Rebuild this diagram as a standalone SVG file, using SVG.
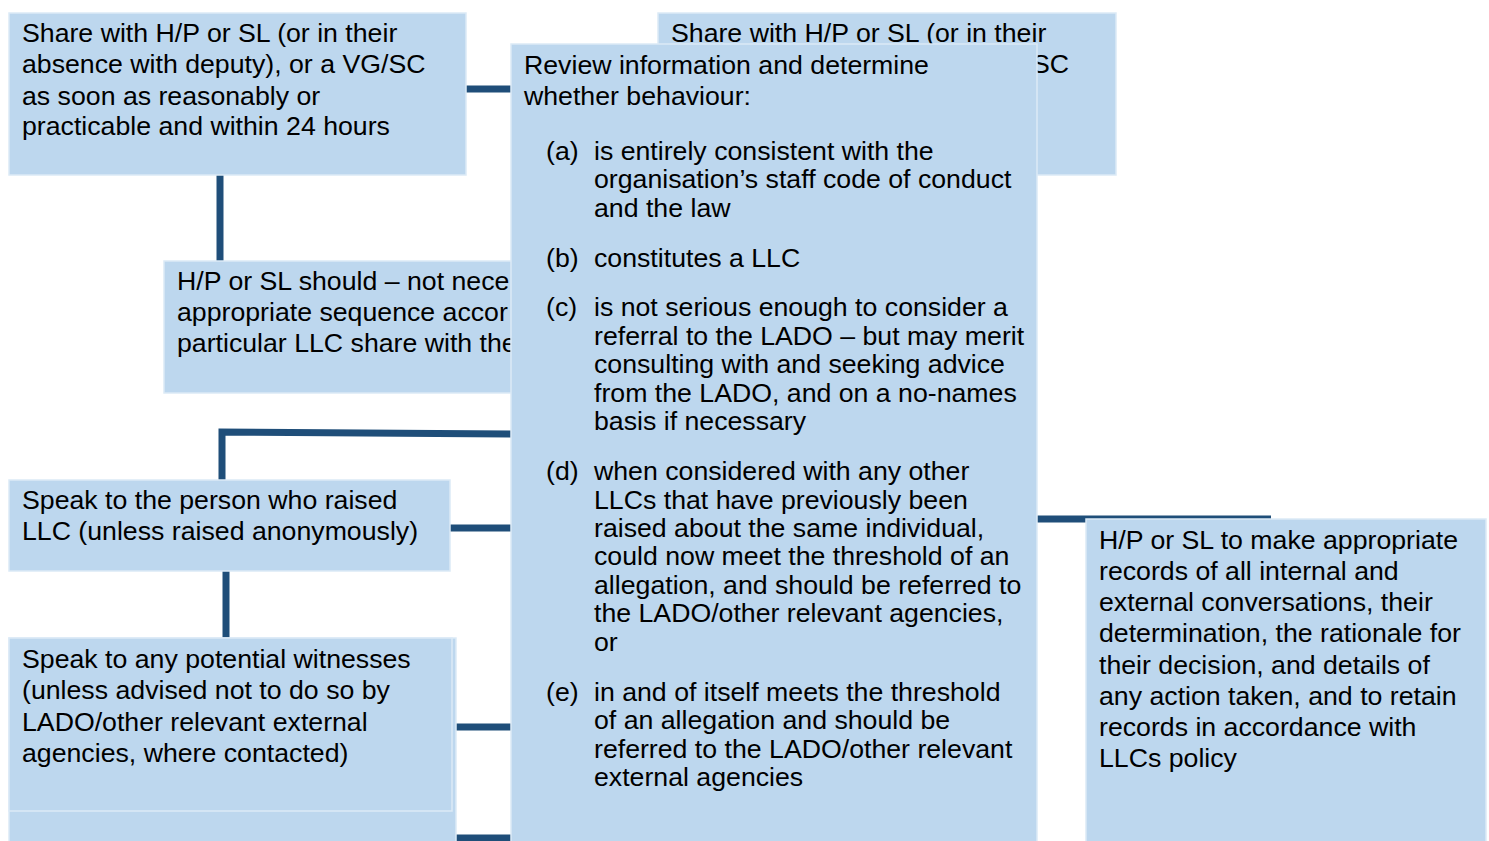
<svg xmlns="http://www.w3.org/2000/svg" width="1489" height="841" viewBox="0 0 1489 841">
<defs>
<style>
.box{fill:#BDD7EE;stroke:#DCEAF6;stroke-width:1.5}
.con{fill:none;stroke:#1F4E79;stroke-width:7}
text{font-family:"Liberation Sans",Arial,sans-serif;font-size:26.7px;fill:#000}
</style>
</defs>
<rect width="1489" height="841" fill="#FFFFFF"/>
<g id="connectors">
<line class="con" x1="466" y1="89" x2="512" y2="89"/>
<line class="con" x1="220" y1="175" x2="220" y2="261"/>
<polyline class="con" points="222,481 222,432 512,434"/>
<line class="con" x1="450" y1="528" x2="512" y2="528"/>
<line class="con" x1="226" y1="571" x2="226" y2="638"/>
<line class="con" x1="456" y1="727" x2="512" y2="727"/>
<line class="con" x1="456" y1="838" x2="512" y2="838"/>
<line class="con" x1="1036" y1="519" x2="1271" y2="519"/>
</g>
<g id="node-share-1">
<rect class="box" x="9" y="13" width="457" height="162"/>
<text x="22" y="42">Share with H/P or SL (or in their</text>
<text x="22" y="73">absence with deputy), or a VG/SC</text>
<text x="22" y="105">as soon as reasonably or</text>
<text x="22" y="135">practicable and within 24 hours</text>
</g>
<g id="node-share-2">
<rect class="box" x="658" y="13" width="458" height="162"/>
<text x="671" y="42">Share with H/P or SL (or in their</text>
<text x="1069" y="73" text-anchor="end">SC</text>
</g>
<g id="node-sequence">
<rect class="box" x="164" y="261" width="360" height="132"/>
<text x="177" y="290">H/P or SL should – not nece</text>
<text x="177" y="321">appropriate sequence accor</text>
<text x="177" y="352">particular LLC share with the</text>
</g>
<g id="node-speak-person">
<rect class="box" x="9" y="480" width="441" height="91"/>
<text x="22" y="509">Speak to the person who raised</text>
<text x="22" y="540">LLC (unless raised anonymously)</text>
</g>
<g id="node-witnesses">
<rect class="box" x="9" y="638" width="447" height="210"/>
<rect class="box" x="9" y="638" width="443" height="173"/>
<text x="22" y="668">Speak to any potential witnesses</text>
<text x="22" y="699">(unless advised not to do so by</text>
<text x="22" y="731">LADO/other relevant external</text>
<text x="22" y="762">agencies, where contacted)</text>
</g>
<g id="node-review">
<rect class="box" x="511" y="44" width="526" height="805"/>
<text x="524" y="74">Review information and determine</text>
<text x="524" y="105">whether behaviour:</text>
<text x="546" y="160">(a)</text>
<text x="594" y="160">is entirely consistent with the</text>
<text x="594" y="188">organisation’s staff code of conduct</text>
<text x="594" y="217">and the law</text>
<text x="546" y="267">(b)</text>
<text x="594" y="267">constitutes a LLC</text>
<text x="546" y="316">(c)</text>
<text x="594" y="316">is not serious enough to consider a</text>
<text x="594" y="345">referral to the LADO – but may merit</text>
<text x="594" y="373">consulting with and seeking advice</text>
<text x="594" y="402">from the LADO, and on a no-names</text>
<text x="594" y="430">basis if necessary</text>
<text x="546" y="480">(d)</text>
<text x="594" y="480">when considered with any other</text>
<text x="594" y="509">LLCs that have previously been</text>
<text x="594" y="537">raised about the same individual,</text>
<text x="594" y="565">could now meet the threshold of an</text>
<text x="594" y="594">allegation, and should be referred to</text>
<text x="594" y="622">the LADO/other relevant agencies,</text>
<text x="594" y="651">or</text>
<text x="546" y="701">(e)</text>
<text x="594" y="701">in and of itself meets the threshold</text>
<text x="594" y="729">of an allegation and should be</text>
<text x="594" y="758">referred to the LADO/other relevant</text>
<text x="594" y="786">external agencies</text>
</g>
<g id="node-records">
<rect class="box" x="1086" y="519" width="400" height="330"/>
<text x="1099" y="549">H/P or SL to make appropriate</text>
<text x="1099" y="580">records of all internal and</text>
<text x="1099" y="611">external conversations, their</text>
<text x="1099" y="642">determination, the rationale for</text>
<text x="1099" y="674">their decision, and details of</text>
<text x="1099" y="705">any action taken, and to retain</text>
<text x="1099" y="736">records in accordance with</text>
<text x="1099" y="767">LLCs policy</text>
</g>
</svg>
